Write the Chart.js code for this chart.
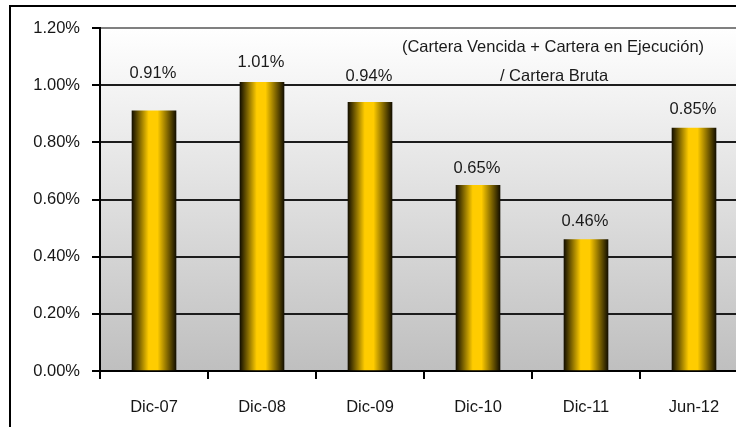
<!DOCTYPE html>
<html>
<head>
<meta charset="utf-8">
<script src="https://cdn.jsdelivr.net/npm/chart.js@4/dist/chart.umd.min.js"></script>
<style>
  html, body { margin: 0; padding: 0; overflow: hidden; background: #fff; width: 736px; height: 427px; }
  #frame { position: absolute; left: 9px; top: 5px; width: 800px; height: 500px; border: 2px solid #000; }
  #myChart { position: absolute; left: 0; top: 0; }
</style>
</head>
<body>
<div id="frame"></div>
<canvas id="myChart" width="760" height="427"></canvas>
<script>
// valores (en %)
const periodos = ["Dic-07", "Dic-08", "Dic-09", "Dic-10", "Dic-11", "Jun-12"];
const morosidad = [0.91, 1.01, 0.94, 0.65, 0.46, 0.85];
const etiquetas = ["0.91%", "1.01%", "0.94%", "0.65%", "0.46%", "0.85%"];
const nota = ["(Cartera Vencida + Cartera en Ejecución)", "/ Cartera Bruta"];

Chart.defaults.font.family = "'Liberation Sans', Arial, sans-serif";
Chart.defaults.font.size = 16.5;
Chart.defaults.color = "#161616";

// fondo del area de trazado: degradado blanco -> gris
const fondo = {
  id: "fondo",
  beforeDraw(chart) {
    const { ctx, chartArea: a } = chart;
    const g = ctx.createLinearGradient(0, a.top, 0, a.bottom);
    g.addColorStop(0, "#ffffff");
    g.addColorStop(1, "#bfbfbf");
    ctx.save();
    ctx.fillStyle = g;
    ctx.fillRect(a.left, a.top, a.right - a.left, a.bottom - a.top);
    ctx.restore();
  },
};

// etiquetas sobre las barras + nota
const rotulos = {
  id: "rotulos",
  afterDatasetsDraw(chart, args, opts) {
    const { ctx } = chart;
    const meta = chart.getDatasetMeta(0);
    ctx.save();
    ctx.font = "16.5px 'Liberation Sans', Arial, sans-serif";
    ctx.fillStyle = "#1a1a1a";
    ctx.textAlign = "center";
    ctx.textBaseline = "middle";
    meta.data.forEach((bar, i) => {
      ctx.fillText(etiquetas[i], bar.x - 1, bar.y - opts.offsets[i]);
    });
    ctx.fillText(nota[0], 553, 47);
    ctx.fillText(nota[1], 554, 76);
    ctx.restore();
  },
};

new Chart("myChart", {
  type: "bar",
  data: {
    labels: periodos,
    datasets: [
      {
        data: morosidad,
        barThickness: 44,
        borderWidth: 0,
        backgroundColor: (c) => {
          const chart = c.chart;
          if (!chart.chartArea) return "#ffcc00";
          const x = chart.scales.x.getPixelForValue(c.dataIndex);
          const g = chart.ctx.createLinearGradient(x - 22, 0, x + 22, 0);
          g.addColorStop(0, "#151000");
          g.addColorStop(0.38, "#ffcc00");
          g.addColorStop(0.58, "#ffcc00");
          g.addColorStop(1, "#151000");
          return g;
        },
      },
    ],
  },
  plugins: [fondo, rotulos],
  options: {
    responsive: false,
    animation: false,
    layout: { padding: { top: 28, right: 12, left: 0, bottom: 0 } },
    plugins: {
      legend: { display: false },
      tooltip: { enabled: false },
      rotulos: { offsets: [37, 20, 26, 17, 18, 19] },
    },
    scales: {
      x: {
        grid: { drawOnChartArea: false, tickLength: 8, tickColor: "#000", lineWidth: 2 },
        border: { color: "#000", width: 2 },
        ticks: { padding: 19, color: "#161616" },
        afterFit: (s) => { s.height = 56; },
      },
      y: {
        min: 0,
        max: 1.2,
        ticks: {
          stepSize: 0.2,
          padding: 12,
          color: "#161616",
          callback: (v) => v.toFixed(2) + "%",
        },
        grid: {
          tickLength: 8,
          lineWidth: 2,
          tickColor: "#000",
          color: (c) => (c.tick && c.tick.value >= 1.2 ? "#808080" : "#1c1c1c"),
        },
        border: { color: "#000", width: 2 },
        afterFit: (s) => { s.width = 100; },
      },
    },
  },
});
</script>
</body>
</html>
